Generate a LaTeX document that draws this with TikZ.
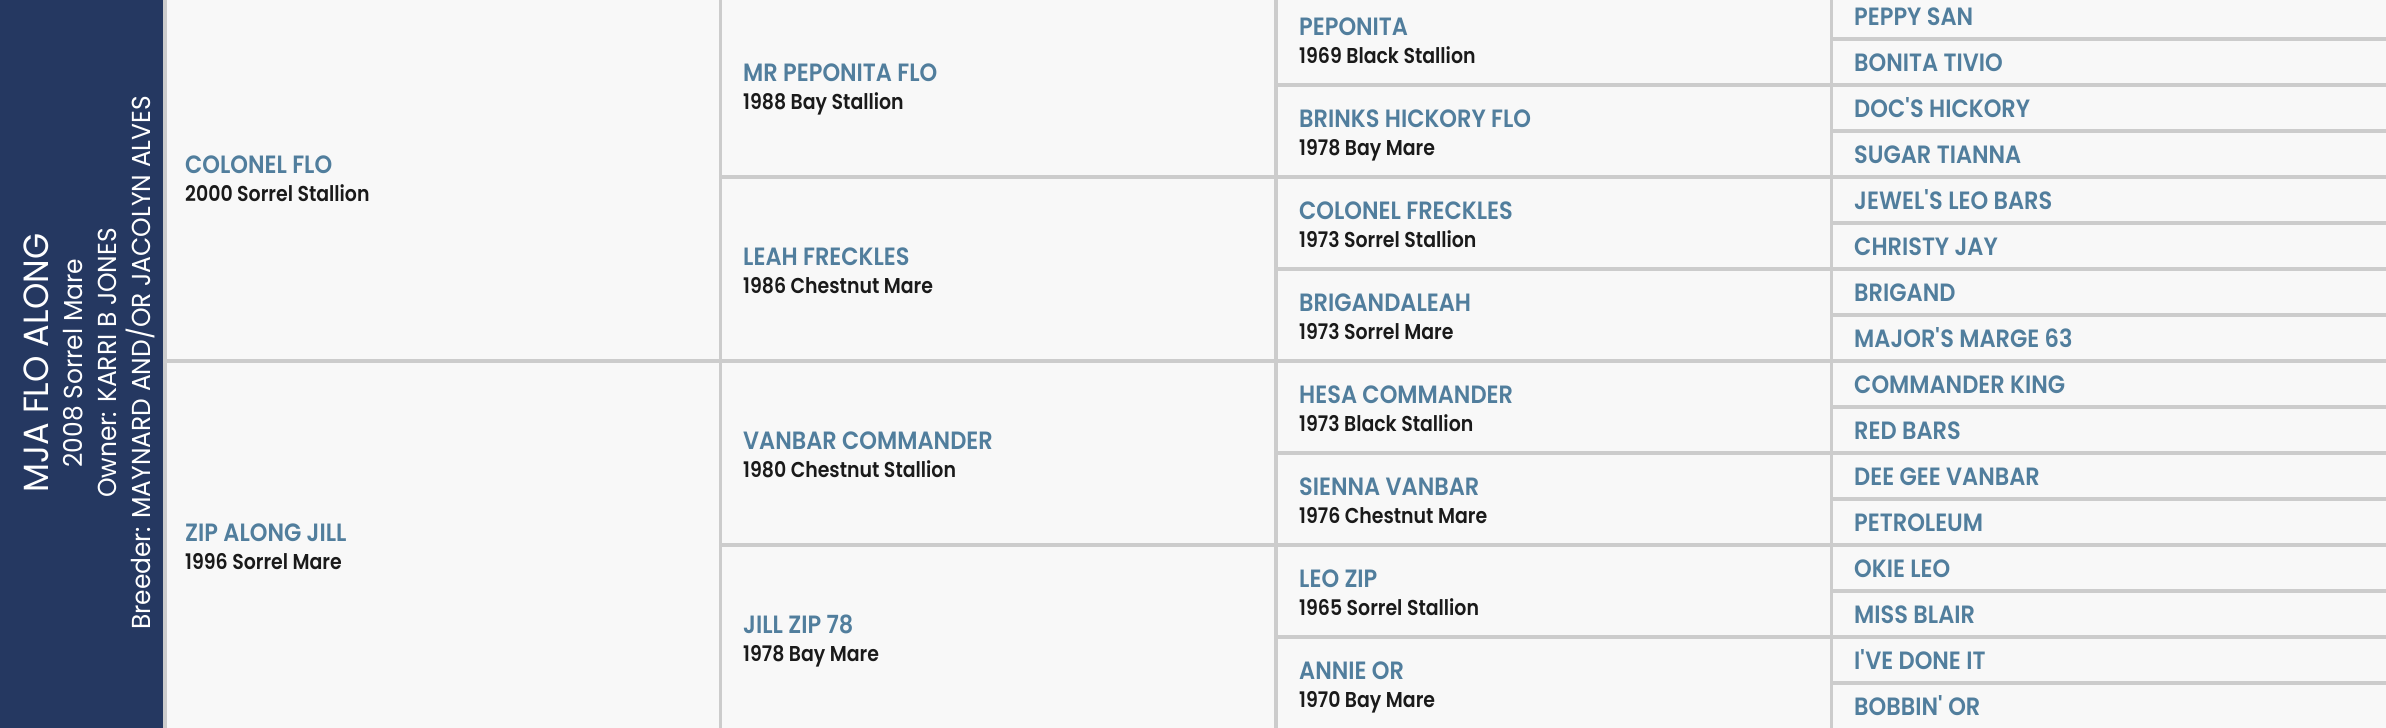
\documentclass[tikz,border=0pt]{standalone}
\usepackage{fontspec}
\usepackage{xcolor}
\usepackage{tikz}
\newfontfamily\namefont{Poppins SemiBold}[FakeStretch=0.9]
\newfontfamily\infofont{Poppins SemiBold}[FakeStretch=0.88]
\newfontfamily\barfont{Poppins}[FakeStretch=0.96]
\definecolor{barblue}{HTML}{253861}
\definecolor{nameblue}{HTML}{517E9D}
\definecolor{infoblack}{HTML}{1A1A1A}
\definecolor{gridgray}{HTML}{CCCCCC}
\definecolor{cellbg}{HTML}{F8F8F8}

\begin{document}
\begin{tikzpicture}[x=1pt,y=1pt,yscale=-1,
   gridln/.style={color=gridgray, line width=3.5pt},
   hname/.style={anchor=base west, inner sep=0pt, text=nameblue, font=\namefont\fontsize{25}{29}\selectfont},
   hinfo/.style={anchor=base west, inner sep=0pt, text=infoblack, font=\infofont\fontsize{21.5}{26}\selectfont},
   bartitle/.style={anchor=base, inner sep=0pt, rotate=90, text=white, font=\barfont\fontsize{35}{40}\selectfont},
   barline/.style={bartitle, font=\barfont\fontsize{26}{30}\selectfont}]
   \useasboundingbox (0,0) rectangle (2386,728);

   %Shape: Rectangle [cells]
   \fill [cellbg] (165,0) rectangle (2386,728);
   %Shape: Rectangle [side bar]
   \fill [barblue] (0,0) rectangle (165,728);

   %Straight Lines [columns]
   \draw [gridln] (165,0) -- (165,728);
   \draw [gridln] (720.5,0) -- (720.5,728);
   \draw [gridln] (1276,0) -- (1276,728);
   \draw [gridln] (1831.5,0) -- (1831.5,728);
   %Straight Lines [sire / dam]
   \draw [gridln] (165,361) -- (2386,361);
   %Straight Lines [grandparents]
   \draw [gridln] (720.5,177) -- (2386,177);
   \draw [gridln] (720.5,545) -- (2386,545);
   %Straight Lines [great grandparents]
   \draw [gridln] (1276,85) -- (2386,85);
   \draw [gridln] (1276,269) -- (2386,269);
   \draw [gridln] (1276,453) -- (2386,453);
   \draw [gridln] (1276,637) -- (2386,637);
   %Straight Lines [4th generation]
   \draw [gridln] (1831.5,39) -- (2386,39);
   \draw [gridln] (1831.5,131) -- (2386,131);
   \draw [gridln] (1831.5,223) -- (2386,223);
   \draw [gridln] (1831.5,315) -- (2386,315);
   \draw [gridln] (1831.5,407) -- (2386,407);
   \draw [gridln] (1831.5,499) -- (2386,499);
   \draw [gridln] (1831.5,591) -- (2386,591);
   \draw [gridln] (1831.5,683) -- (2386,683);

   % Text Node
   \draw (48,363) node (horse) [bartitle] {MJA FLO ALONG};
   % Text Node
   \draw (82,363) node (horseinfo) [barline] {2008 Sorrel Mare};
   % Text Node
   \draw (116.5,363) node (owner) [barline] {Owner: KARRI B JONES};
   % Text Node
   \draw (150,363) node (breeder) [barline] {Breeder: MAYNARD AND/OR JACOLYN ALVES};

   % Text Node
   \draw (185,173) node (sire) [hname] {COLONEL FLO};
   \draw (185,201) node (sireinfo) [hinfo] {2000 Sorrel Stallion};
   % Text Node
   \draw (185,541) node (dam) [hname] {ZIP ALONG JILL};
   \draw (185,569) node (daminfo) [hinfo] {1996 Sorrel Mare};

   % Text Node
   \draw (743,81) node (ss) [hname] {MR PEPONITA FLO};
   \draw (743,109) node (ssinfo) [hinfo] {1988 Bay Stallion};
   % Text Node
   \draw (743,265) node (sd) [hname] {LEAH FRECKLES};
   \draw (743,293) node (sdinfo) [hinfo] {1986 Chestnut Mare};
   % Text Node
   \draw (743,449) node (ds) [hname] {VANBAR COMMANDER};
   \draw (743,477) node (dsinfo) [hinfo] {1980 Chestnut Stallion};
   % Text Node
   \draw (743,633) node (dd) [hname] {JILL ZIP 78};
   \draw (743,661) node (ddinfo) [hinfo] {1978 Bay Mare};

   % Text Node
   \draw (1299,35) node (sss) [hname] {PEPONITA};
   \draw (1299,63) node (sssinfo) [hinfo] {1969 Black Stallion};
   % Text Node
   \draw (1299,127) node (ssd) [hname] {BRINKS HICKORY FLO};
   \draw (1299,155) node (ssdinfo) [hinfo] {1978 Bay Mare};
   % Text Node
   \draw (1299,219) node (sds) [hname] {COLONEL FRECKLES};
   \draw (1299,247) node (sdsinfo) [hinfo] {1973 Sorrel Stallion};
   % Text Node
   \draw (1299,311) node (sdd) [hname] {BRIGANDALEAH};
   \draw (1299,339) node (sddinfo) [hinfo] {1973 Sorrel Mare};
   % Text Node
   \draw (1299,403) node (dss) [hname] {HESA COMMANDER};
   \draw (1299,431) node (dssinfo) [hinfo] {1973 Black Stallion};
   % Text Node
   \draw (1299,495) node (dsd) [hname] {SIENNA VANBAR};
   \draw (1299,523) node (dsdinfo) [hinfo] {1976 Chestnut Mare};
   % Text Node
   \draw (1299,587) node (dds) [hname] {LEO ZIP};
   \draw (1299,615) node (ddsinfo) [hinfo] {1965 Sorrel Stallion};
   % Text Node
   \draw (1299,679) node (ddd) [hname] {ANNIE OR};
   \draw (1299,707) node (dddinfo) [hinfo] {1970 Bay Mare};

   % Text Node
   \draw (1854,25.5) node (ssss) [hname] {PEPPY SAN};
   \draw (1854,71.5) node (sssd) [hname] {BONITA TIVIO};
   \draw (1854,117.5) node (ssds) [hname] {DOC\textquotesingle S HICKORY};
   \draw (1854,163.5) node (ssdd) [hname] {SUGAR TIANNA};
   % Text Node
   \draw (1854,209.5) node (sdss) [hname] {JEWEL\textquotesingle S LEO BARS};
   \draw (1854,255.5) node (sdsd) [hname] {CHRISTY JAY};
   \draw (1854,301.5) node (sdds) [hname] {BRIGAND};
   \draw (1854,347.5) node (sddd) [hname] {MAJOR\textquotesingle S MARGE 63};
   % Text Node
   \draw (1854,393.5) node (dsss) [hname] {COMMANDER KING};
   \draw (1854,439.5) node (dssd) [hname] {RED BARS};
   \draw (1854,485.5) node (dsds) [hname] {DEE GEE VANBAR};
   \draw (1854,531.5) node (dsdd) [hname] {PETROLEUM};
   % Text Node
   \draw (1854,577.5) node (ddss) [hname] {OKIE LEO};
   \draw (1854,623.5) node (ddsd) [hname] {MISS BLAIR};
   \draw (1854,669.5) node (ddds) [hname] {I\textquotesingle VE DONE IT};
   \draw (1854,715.5) node (dddd) [hname] {BOBBIN\textquotesingle\ OR};

\end{tikzpicture}
\end{document}
